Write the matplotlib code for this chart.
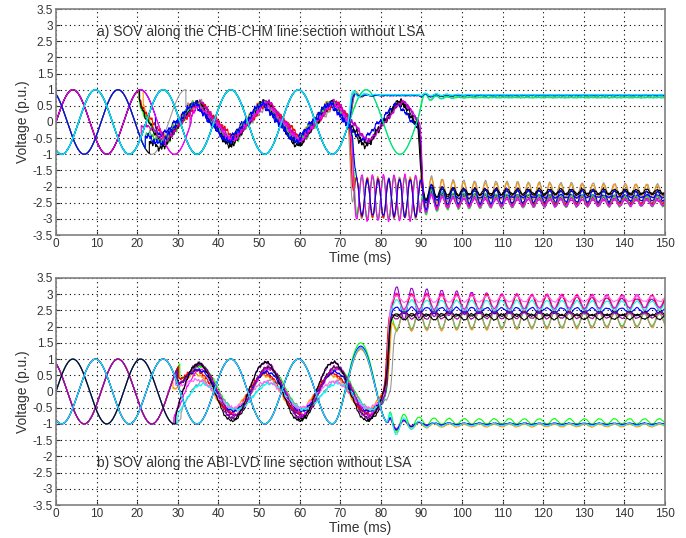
import numpy as np
import matplotlib
matplotlib.use("Agg")
import matplotlib.pyplot as plt
from matplotlib.ticker import FixedLocator, FuncFormatter

# ---------------- values ----------------
FREQ_HZ = 60.0                      # source period 16.7 ms
x_ticks = list(range(0, 151, 10))
y_ticks = [-3.5, -3, -2.5, -2, -1.5, -1, -0.5, 0, 0.5, 1, 1.5, 2, 2.5, 3, 3.5]
title_a = "a) SOV along the CHB-CHM line section without LSA"
title_b = "b) SOV along the ABI-LVD line section without LSA"

# ---- panel a : phase-b traces (sine, then trapped charge) ----
a_b_colors = ["#ff0000", "#ff00ff", "#000000", "#ff9900",
              "#00ff00", "#00dd99", "#00e5e5", "#0000ff", "#00ffff"]
a_b_switch = [72.1, 72.3, 72.6, 72.5, 89.4, 89.6, 72.2, 72.4, 71.9]
a_b_level = [0.83, 0.82, 0.82, 0.83, 0.77, 0.75, 0.84, 0.82, 0.84]
a_b_ring = [0.15, 0.10, 0.10, 0.20, 0.15, 0.12, 0.20, 0.10, 0.22]

# ---- panel a : phase-a / phase-c traces ----
a_ac_colors = ["#999999", "#ff9900", "#00ff00", "#9900cc", "#000000", "#ff0000",
               "#0000ff", "#000000", "#cc00cc", "#33cc33", "#ff00ff", "#0000ff"]
a_ac_phase = ["c", "a", "a", "a", "c", "a", "a", "a", "c", "c", "a", "c"]
a_ac_close = [32.0, 21.5, 20.4, 33.3, 23.0, 20.5, 24.5, 20.6, 21.0, 22.0, 33.0, 22.0]
a_ac_gain = [0.47, 0.52, 0.56, 0.55, 0.60, 0.46, 0.48, 0.58, 0.53, 0.50, 0.50, 0.52]
a_ac_lag = [0.9, -0.6, 0.3, 0.5, -0.3, 0.8, -0.9, 0.1, 0.6, -0.4, 0.2, -0.7]
a_ac_offset = [0.00, 0.03, -0.03, 0.02, -0.06, 0.05, 0.00, -0.04, 0.03, 0.02, 0.00, -0.02]
a_ac_drop = [71.8, 72.2, 72.6, 89.3, 89.0, 72.1, 89.4, 89.2, 89.5, 72.4, 72.3, 72.8]
a_ac_mid_amp = [0.62, 0.60, 0.65, 0.0, 0.0, 0.60, 0.0, 0.0, 0.0, 0.65, 0.70, 0.55]
a_ac_mid_sign = [-1, -1, 1, 1, 1, -1, 1, 1, 1, 1, 1, -1]
a_ac_level = [-2.10, -2.15, -2.45, -2.45, -2.15, -2.40, -2.30, -2.20, -2.50, -2.45, -2.50, -2.30]
a_ac_ring = [0.30, 0.30, 0.25, 0.15, 0.10, 0.18, 0.05, 0.08, 0.12, 0.25, 0.15, 0.25]
a_ac_ripple = [0.10, 0.10, 0.11, 0.08, 0.10, 0.09, 0.09, 0.10, 0.08, 0.10, 0.09, 0.11]
A_MID_CENTER = -2.35
A_MID_TROUGH = 74.0
A_POST_PEAK = 92.5
A_RING_PERIOD = 2.65

# ---- panel b : phase-b traces ----
b_b_colors = ["#999999", "#ff9900", "#00ff00", "#ff0000", "#ff00ff", "#0000ff", "#00ffff"]
b_b_peak75 = [1.30, 1.30, 1.50, 1.35, 1.35, 1.40, 1.35]
b_b_level = [-1.02, -1.05, -0.92, -1.00, -1.00, -1.00, -1.02]
b_b_ring_fast = [0.25, 0.30, 0.35, 0.20, 0.20, 0.25, 0.45]
b_b_ring_slow = [0.03, 0.04, 0.08, 0.02, 0.02, 0.02, 0.03]

# ---- panel b : phase-a / phase-c traces ----
b_ac_colors = ["#00ff00", "#ff9900", "#999999", "#000000", "#9900cc", "#ff00ff",
               "#ff0000", "#0000ff", "#00ffff", "#ff66ff", "#990099", "#000000"]
b_ac_phase = ["c", "c", "a", "c", "a", "a", "c", "c", "a", "c", "c", "a"]
b_ac_close = [30.5, 28.8, 30.8, 30.0, 29.3, 29.0, 30.2, 29.6, 30.0, 29.4, 29.8, 29.5]
b_ac_gain = [0.65, 0.55, 0.45, 0.80, 0.85, 0.70, 0.60, 0.60, 0.40, 0.40, 0.75, 0.90]
b_ac_offset = [0.05, -0.05, -0.10, -0.05, 0.05, 0.00, -0.05, 0.00, -0.15, -0.10, 0.00, 0.00]
b_ac_lag = [0.6, -0.8, 1.0, 0.2, -0.3, 0.4, -0.5, 0.0, 0.7, -0.2, 0.3, -0.4]
b_ac_rise = [81.3, 81.5, 82.2, 81.2, 80.8, 80.9, 80.7, 81.0, 80.9, 81.0, 81.1, 81.0]
b_ac_level = [2.22, 2.20, 2.20, 2.40, 2.72, 2.78, 2.72, 2.50, 2.65, 2.85, 2.35, 2.30]
b_ac_ring = [0.30, 0.35, 0.30, 0.08, 0.55, 0.25, 0.28, 0.10, 0.18, 0.10, 0.12, 0.10]
b_ac_sign = [-1, -1, -1, -1, 1, 1, 1, 1, 1, 1, -1, 1]
b_ac_tau = [150, 150, 150, 200, 45, 300, 300, 200, 250, 250, 200, 200]
B_POST_PEAK = 83.9
B_RING_PERIOD = 3.7

# ---------------- helpers ----------------
t = np.linspace(0.0, 150.0, 7501)
W = 2 * np.pi * FREQ_HZ / 1000.0
SHIFT = {"a": 0.0, "b": -2 * np.pi / 3, "c": 2 * np.pi / 3}


def src(ph, tt):
    return np.sin(W * tt + SHIFT[ph])


def sstep(t0, w):
    return 0.5 * (1 + np.tanh((t - t0) / w))


def decay(t0, tau):
    return np.exp(-np.clip(t - t0, 0, None) / tau)


def ripple(i, amp):
    f1 = 0.9 + 0.11 * (i % 6)
    f2 = 2.1 + 0.17 * (i % 7)
    f3 = 0.37 + 0.05 * (i % 5)
    return amp * (0.45 * np.sin(2 * np.pi * f1 * t + 1.3 * i)
                  + 0.30 * np.sin(2 * np.pi * f2 * t + 0.7 * i)
                  + 0.40 * np.sin(2 * np.pi * f3 * t + 2.1 * i))


def ring(peak_ref, period):
    return np.cos(2 * np.pi * (t - peak_ref) / period)


# ---------------- figure ----------------
fig = plt.figure(figsize=(6.86, 5.38), dpi=100)
ax_a = fig.add_axes([56 / 686, 1 - 235 / 538, 609 / 686, 226 / 538])
ax_b = fig.add_axes([56 / 686, 1 - 505 / 538, 609 / 686, 227 / 538])
LW = 0.8

# panel a - phase a/c
for i in range(len(a_ac_colors)):
    ph = a_ac_phase[i]
    tc = a_ac_close[i]
    k = a_ac_gain[i]
    td = a_ac_drop[i]
    xb = W * (t - a_ac_lag[i]) + SHIFT["b"]
    rip = ripple(i, a_ac_ripple[i])
    bund = a_ac_offset[i] - k * (np.sin(xb) - 0.11 * np.sin(3 * xb)) + rip
    bund_tc = np.interp(tc, t, bund)
    jump = 0.5 * (src(ph, tc) - bund_tc) * decay(tc, 2.0)
    v = np.where(t < tc, src(ph, t), bund + jump)
    post = (a_ac_level[i]
            + (a_ac_ring[i] + 0.25 * decay(90.0, 3.0)) * decay(90.0, 120.0)
            * ring(A_POST_PEAK, A_RING_PERIOD) + 0.3 * rip)
    if td < 80:
        mid = (A_MID_CENTER - a_ac_mid_sign[i] * a_ac_mid_amp[i]
               * ring(A_MID_TROUGH, A_RING_PERIOD) + 0.5 * rip)
        s1 = sstep(td + 0.7, 0.5)
        s2 = sstep(90.0, 0.4)
        v = v * (1 - s1) + s1 * (mid * (1 - s2) + post * s2)
    else:
        s1 = sstep(td + 0.6, 0.35)
        v = v * (1 - s1) + s1 * post
    ax_a.plot(t, v, color=a_ac_colors[i], lw=LW)

# panel a - phase b
for i in range(len(a_b_colors)):
    sw = a_b_switch[i]
    v0 = src("b", t)
    tail = (a_b_level[i]
            + a_b_ring[i] * decay(sw, 2.5) * ring(sw + 1.4, A_RING_PERIOD)
            + 0.06 * decay(90.0, 5.0) * sstep(89.8, 0.3) * ring(91.0, A_RING_PERIOD)
            + ripple(i + 20, 0.012))
    s = sstep(sw + 0.4, 0.35)
    v = v0 * (1 - s) + s * tail
    ax_a.plot(t, v, color=a_b_colors[i], lw=LW)

# panel b - phase a/c
for i in range(len(b_ac_colors)):
    ph = b_ac_phase[i]
    tc = b_ac_close[i]
    rip = ripple(i + 5, 0.05)
    bund = (b_ac_offset[i] + b_ac_gain[i] * np.cos(W * (t - 52.0 - b_ac_lag[i]))
            + rip)
    bund_tc = np.interp(tc, t, bund)
    jump = 0.6 * (src(ph, tc) - bund_tc) * decay(tc, 2.5)
    v = np.where(t < tc, src(ph, t), bund + jump)
    tr = b_ac_rise[i]
    post = (b_ac_level[i] + b_ac_sign[i] * b_ac_ring[i] * decay(tr, b_ac_tau[i])
            * ring(B_POST_PEAK, B_RING_PERIOD) + 0.4 * rip)
    s = sstep(tr + 0.8, 0.45)
    v = v * (1 - s) + s * post
    ax_b.plot(t, v, color=b_ac_colors[i], lw=LW)

# panel b - phase b
for i in range(len(b_b_colors)):
    amp = (b_b_peak75[i] + 1) / 2
    c0 = b_b_peak75[i] - amp
    v0 = src("b", t)
    mod = c0 - amp * np.cos(np.pi * (t - 68.06) / 7.0)
    v = np.where(t < 68.06, v0, mod)
    env = b_b_ring_fast[i] * decay(82.0, 4.0) + b_b_ring_slow[i]
    tail = b_b_level[i] - env * ring(B_POST_PEAK, B_RING_PERIOD) + ripple(i + 30, 0.01)
    s = sstep(82.0, 0.4)
    v = v * (1 - s) + s * tail
    ax_b.plot(t, v, color=b_b_colors[i], lw=LW)

# ---------------- axes styling ----------------
fmt = FuncFormatter(lambda val, pos: ("%g" % val))
for ax in (ax_a, ax_b):
    ax.set_xlim(0, 150)
    ax.set_ylim(-3.5, 3.5)
    ax.xaxis.set_major_locator(FixedLocator(x_ticks))
    ax.yaxis.set_major_locator(FixedLocator(y_ticks))
    ax.yaxis.set_major_formatter(fmt)
    ax.grid(True, color="black", linestyle=(0, (1, 3)), linewidth=0.8)
    ax.set_axisbelow(True)
    ax.tick_params(direction="in", length=3, width=0.8, colors="#333333",
                   labelsize=8.5, pad=2)
    for lab in ax.get_xticklabels() + ax.get_yticklabels():
        lab.set_fontfamily("Liberation Sans")
    for sp in ax.spines.values():
        sp.set_color("#808080")
        sp.set_linewidth(1.2)
    ax.set_ylabel("Voltage (p.u.)", fontsize=10, color="#333333",
                  family="Liberation Sans", labelpad=2)

ax_a.text(10.0, 2.8, title_a, fontsize=10, color="#333333",
          family="Liberation Sans", va="center", ha="left")
ax_b.text(10.0, -2.2, title_b, fontsize=10, color="#333333",
          family="Liberation Sans", va="center", ha="left")
fig.text(360 / 686, 1 - 258 / 538, "Time (ms)", fontsize=10, color="#333333",
         family="Liberation Sans", ha="center", va="center")
fig.text(360 / 686, 1 - 528 / 538, "Time (ms)", fontsize=10, color="#333333",
         family="Liberation Sans", ha="center", va="center")

fig.savefig("out.png", dpi=100)
